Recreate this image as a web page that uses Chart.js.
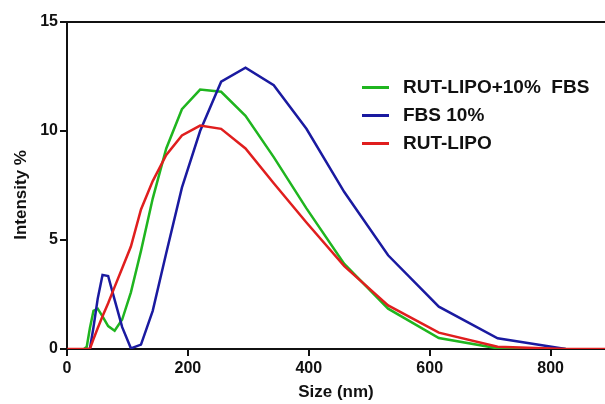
<!DOCTYPE html>
<html>
<head>
<meta charset="utf-8">
<script src="https://cdn.jsdelivr.net/npm/chart.js@4.4.0/dist/chart.umd.min.js"></script>
<style>
    body { margin: 0; background: #fff; }
    .chart-container { position: relative; width: 605px; height: 404px; }
    .legend { position: absolute; left: 362px; top: 73px; font-family: "Liberation Sans", Arial, sans-serif; font-weight: bold; font-size: 19px; color: #111; }
    .legend div { display: flex; align-items: center; height: 28px; white-space: pre; }
    .legend span { display: inline-block; width: 27px; height: 3px; margin-right: 14px; }
</style>
</head>
<body>
<div class="chart-container">
    <canvas id="chart" width="605" height="404"></canvas>
    <div class="legend" id="legend"></div>
</div>
<script>
// DLS size bins (nm) and intensity distributions (%)
const sizeNm = [0.4, 28.21, 32.67, 37.84, 43.82, 50.75, 58.77, 68.06, 78.82, 91.28, 105.7, 122.4, 141.8, 164.2, 190.1, 220.2, 255.0, 295.3, 342.0, 396.1, 458.7, 531.2, 615.1, 712.4, 825.0, 955.4];
const lipoFbs = [null, 0, 0.1, 0.95, 1.75, 1.85, 1.5, 1.05, 0.84, 1.35, 2.6, 4.5, 6.9, 9.2, 11.0, 11.9, 11.8, 10.7, 8.8, 6.45, 3.9, 1.85, 0.5, 0.03, 0, null];
const fbs10 = [null, null, 0, 0, 1.0, 2.3, 3.4, 3.35, 2.25, 1.0, 0.03, 0.2, 1.75, 4.4, 7.4, 10.0, 12.26, 12.9, 12.1, 10.1, 7.2, 4.3, 1.94, 0.49, 0, null];
const rutLipo = [0, 0, 0, 0, 0.45, 0.95, 1.5, 2.1, 2.85, 3.7, 4.7, 6.4, 7.7, 8.9, 9.8, 10.25, 10.1, 9.2, 7.6, 5.8, 3.8, 2.0, 0.75, 0.1, 0, 0];

const seriesNames = ['RUT-LIPO+10%  FBS', 'FBS 10%', 'RUT-LIPO'];
const seriesColors = ['#1fb51f', '#1a1aa0', '#e01e1e'];
const xTicks = [0, 200, 400, 600, 800];
const yTicks = [0, 5, 10, 15];

const toPoints = values => sizeNm.map((x, i) => ({ x, y: values[i] }));

const tickFont = { family: '"Liberation Sans", Arial, sans-serif', size: 16, weight: 'bold' };

// top frame line of the plot box
const topFrame = {
    id: 'topFrame',
    afterDraw(chart) {
        const { ctx, chartArea } = chart;
        ctx.save();
        ctx.strokeStyle = '#111';
        ctx.lineWidth = 2;
        ctx.beginPath();
        ctx.moveTo(chartArea.left - 1, chartArea.top);
        ctx.lineTo(chartArea.right, chartArea.top);
        ctx.stroke();
        ctx.restore();
    }
};

const ctx = document.getElementById('chart').getContext('2d');
new Chart(ctx, {
    type: 'line',
    data: {
        datasets: [lipoFbs, fbs10, rutLipo].map((values, i) => ({
            label: seriesNames[i],
            data: toPoints(values),
            borderColor: seriesColors[i],
            borderWidth: 2.5,
            pointRadius: 0,
            tension: 0,
            fill: false,
            order: 2 - i
        }))
    },
    options: {
        responsive: false,
        animation: false,
        layout: { padding: { top: 22, right: 0, left: 0, bottom: 0 } },
        plugins: {
            legend: { display: false },
            tooltip: { enabled: false }
        },
        scales: {
            x: {
                type: 'linear',
                min: 0,
                max: 890,
                afterFit: scale => { scale.height = 55; },
                afterBuildTicks: scale => { scale.ticks = xTicks.map(value => ({ value })); },
                ticks: { font: tickFont, color: '#111', padding: 3, maxRotation: 0 },
                grid: { drawOnChartArea: false, color: '#111', lineWidth: 2, tickLength: 7 },
                border: { color: '#111', width: 2 },
                title: { display: true, text: 'Size (nm)', font: { ...tickFont, size: 17 }, color: '#111', padding: { top: 0, bottom: 1 } }
            },
            y: {
                min: 0,
                max: 15,
                afterFit: scale => { scale.width = 67; },
                afterBuildTicks: scale => { scale.ticks = yTicks.map(value => ({ value })); },
                ticks: { font: tickFont, color: '#111', padding: 2 },
                grid: { drawOnChartArea: false, color: '#111', lineWidth: 2, tickLength: 7 },
                border: { color: '#111', width: 2 },
                // trailing spaces nudge the title a bit below the axis centre, as in the original
                title: { display: true, text: 'Intensity %    ', font: { ...tickFont, size: 17 }, color: '#111', padding: { top: 11, bottom: 0 } }
            }
        }
    },
    plugins: [topFrame]
});

// legend sits inside the plot, top right
const legend = document.getElementById('legend');
seriesNames.forEach((name, i) => {
    const row = document.createElement('div');
    row.innerHTML = `<span style="background:${seriesColors[i]}"></span>${name}`;
    legend.appendChild(row);
});
</script>
</body>
</html>
